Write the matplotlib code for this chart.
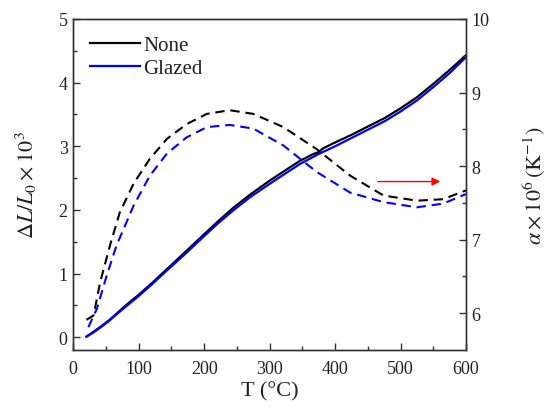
import matplotlib
matplotlib.use("Agg")
import matplotlib.pyplot as plt
import numpy as np

plt.rcParams['font.family'] = ['Liberation Serif', 'DejaVu Serif']
plt.rcParams['mathtext.fontset'] = 'stix'

# Solid curves: dL/L0 x 10^3 (left axis)
T_none = [20, 30, 41, 55, 66, 80, 99, 120, 143, 170, 199, 220, 244, 270, 300, 325, 346, 365, 375, 382, 400, 425, 448, 475, 499, 525, 550, 575, 600]
dL_none = [0.01, 0.08, 0.16, 0.27, 0.37, 0.50, 0.66, 0.85, 1.07, 1.33, 1.61, 1.81, 2.03, 2.24, 2.46, 2.63, 2.77, 2.87, 2.91, 2.97, 3.06, 3.18, 3.30, 3.44, 3.59, 3.77, 3.98, 4.20, 4.43]
T_glz = [20, 30, 41, 55, 66, 80, 99, 120, 143, 170, 199, 220, 244, 270, 300, 325, 346, 375, 400, 425, 448, 475, 499, 525, 550, 575, 600]
dL_glz = [0.01, 0.07, 0.15, 0.26, 0.36, 0.48, 0.64, 0.83, 1.05, 1.30, 1.58, 1.78, 1.99, 2.20, 2.41, 2.58, 2.72, 2.88, 3.00, 3.13, 3.25, 3.39, 3.54, 3.72, 3.93, 4.15, 4.40]

# Dashed curves: alpha x 10^6 (right axis)
Ta_none = [20, 31, 41, 56, 71, 92, 117, 143, 173, 204, 239, 275, 321, 372, 423, 474, 525, 565, 600]
a_none = [5.91, 5.97, 6.42, 6.92, 7.37, 7.76, 8.10, 8.37, 8.57, 8.71, 8.76, 8.71, 8.53, 8.23, 7.87, 7.60, 7.53, 7.55, 7.67]
Ta_glz = [23, 36, 51, 66, 92, 117, 143, 173, 204, 239, 275, 321, 372, 423, 474, 525, 565, 600]
a_glz = [5.81, 6.06, 6.51, 6.92, 7.46, 7.87, 8.17, 8.39, 8.53, 8.56, 8.51, 8.28, 7.92, 7.64, 7.51, 7.44, 7.49, 7.62]

arrow_start = (461, 7.79)
arrow_end = (565, 7.79)

fig = plt.figure(figsize=(5.49, 4.10), dpi=100)
L, R, T, B = 73.3, 466.0, 20.0, 351.0
ax = fig.add_axes([L/549, 1-B/410, (R-L)/549, (B-T)/410])
ax2 = ax.twinx()

ax.plot(T_none, dL_none, color='black', lw=1.6, label='None')
ax.plot(T_glz, dL_glz, color='#0000ff', lw=1.6, label='Glazed')
ax2.plot(Ta_none, a_none, color='black', lw=1.5, ls=(0, (4.5, 2.8)))
ax2.plot(Ta_glz, a_glz, color='#0000ff', lw=1.5, ls=(0, (4.5, 2.8)))

ax2.annotate('', xy=arrow_end, xytext=arrow_start,
             arrowprops=dict(arrowstyle='-|>', color='red', lw=1.0, mutation_scale=12))

ax.set_xlim(0, 600)
ax.set_ylim(-0.2, 5)
ax2.set_ylim(5.5, 10)
ax.set_xticks(np.arange(0, 601, 100))
ax.set_xticks(np.arange(50, 600, 100), minor=True)
ax.set_yticks(np.arange(0, 5.1, 1))
ax.set_yticks(np.arange(0.5, 5, 1), minor=True)
ax2.set_yticks(np.arange(6, 10.1, 1))
ax2.set_yticks(np.arange(6.5, 10, 1), minor=True)

col = '#333333'
for a in (ax, ax2):
    for s in a.spines.values():
        s.set_color(col)
        s.set_linewidth(1.0)
    a.tick_params(which='both', direction='in', colors=col, labelsize=13, width=1.0)
    a.tick_params(which='major', length=5)
    a.tick_params(which='minor', length=3)
ax.tick_params(axis='both', labelcolor='#222222')
ax2.tick_params(axis='y', labelcolor='#222222', pad=4)
ax.tick_params(axis='x', pad=7)
ax.tick_params(axis='y', pad=4)

ax.set_xlabel('T (°C)', fontsize=16, color='#222222', labelpad=3)
ax.set_ylabel(r'$\mathit{\Delta L}/\mathit{L}_0\times10^3$', fontsize=16, color='#222222', labelpad=14)
ax2.set_ylabel(r'$\alpha\times10^6\,(\mathrm{K}^{-1})$', fontsize=16, color='#222222', labelpad=22)

leg = ax.legend(loc='upper left', frameon=False, fontsize=15, handlelength=2.4,
                handletextpad=0.15, labelspacing=0.15, borderaxespad=0.4)
for t in leg.get_texts():
    t.set_color('#222222')

fig.savefig('out.png', dpi=100)
